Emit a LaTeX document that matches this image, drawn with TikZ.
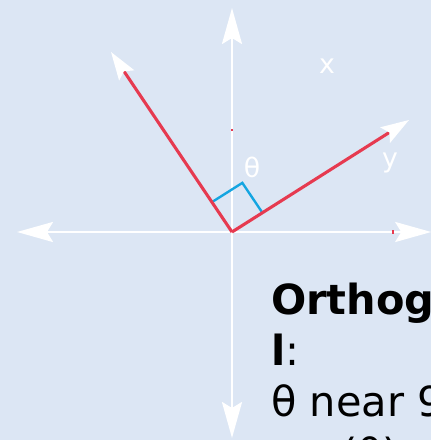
\documentclass[tikz,border=0pt]{standalone}
\usepackage{fontspec}
\setmainfont{DejaVu Sans}
\usetikzlibrary{arrows.meta,calc}
\definecolor{bgblue}{RGB}{220,230,244}
\definecolor{vecred}{RGB}{230,58,80}
\definecolor{marksky}{RGB}{20,165,225}

\begin{document}
\begin{tikzpicture}[font=\fontsize{19}{23}\selectfont,
  axis/.style={white, line width=1.8pt,
    {Stealth[length=0.9cm, width=0.5cm, inset=0.15cm]}-{Stealth[length=0.9cm, width=0.5cm, inset=0.15cm]}},
  vec/.style={vecred, line width=2.2pt, -{Stealth[white, length=0.7cm, width=0.45cm, inset=0.12cm]}},
  lbl/.style={text=white, inner sep=0pt}]

% ===== frame 431 x 440 px, axes cross at (232,232) px, 1px = 0.025cm =====
\useasboundingbox (-5.8,-5.2) rectangle (4.975,5.8);
\clip (-5.8,-5.2) rectangle (4.975,5.8);
\fill[bgblue] (-5.8,-5.2) rectangle (4.975,5.8);

% ============ axes ============
\coordinate (O) at (0,0);
\coordinate (W) at (-5.375,0);
\coordinate (E) at (4.98,0);
\coordinate (N) at (0,5.6);
\coordinate (S) at (0,-5.15);
\draw[axis] (W) -- (E);
\draw[axis] (S) -- (N);
\draw[vecred, line width=1pt] (0,2.52) -- (0,2.58);
\draw[vecred, line width=1pt] (4.025,-0.04) -- (4.025,0.04);

% ============ the two vectors ============
\coordinate (u) at (-3.025,4.5);
\coordinate (v) at (4.425,2.8);
\coordinate (ua) at ($(O)!0.9cm!(u)$);
\coordinate (va) at ($(O)!0.9cm!(v)$);
\draw[marksky, line width=1.7pt] (ua) -- ($(ua)+(va)$) -- (va);
\draw[vec] (O) -- (u);
\draw[vec] (O) -- (v);

\node[lbl] (theta) at (0.5,1.625) {θ};
\node[lbl] (xlbl) at (2.375,4.15) {x};
\node[lbl] (ylbl) at (3.95,1.725) {y};

% ============ caption (runs off the frame, as in the source) ============
\node[anchor=base west, align=left, inner sep=0pt, font=\fontsize{29.5}{36.3}\selectfont]
  (note) at (0.975,-5.9) {\textbf{Orthogona}\\\textbf{l}:\\θ near 90°\\cos(θ) ≈ 0};

\end{tikzpicture}
\end{document}
